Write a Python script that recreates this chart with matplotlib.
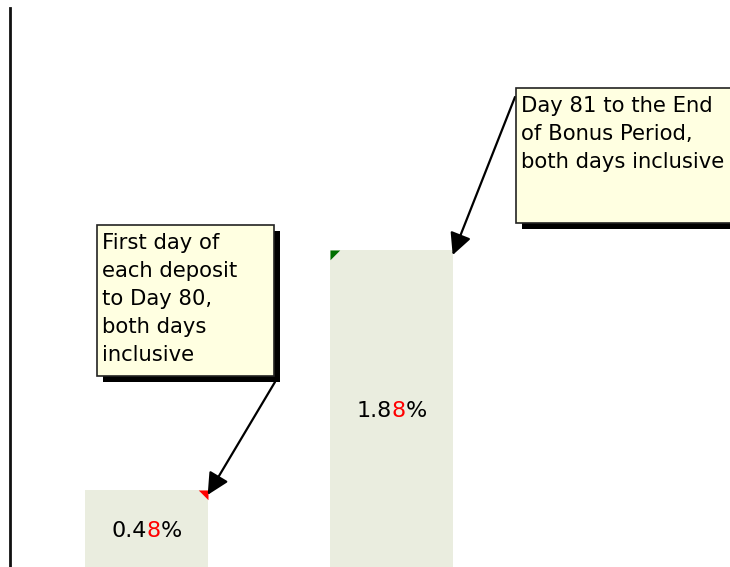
import matplotlib
matplotlib.use("Agg")
import matplotlib.pyplot as plt
from matplotlib.patches import Rectangle
from matplotlib.offsetbox import TextArea, HPacker, AnnotationBbox

# data
categories = ["Day 1-80", "Day 81-End"]
rates = [0.48, 1.88]
label_parts = [("0.4", "8", "%"), ("1.8", "8", "%")]
corner_colors = ["#ff0000", "#007000"]
notes = ["First day of\neach deposit\nto Day 80,\nboth days\ninclusive",
         "Day 81 to the End\nof Bonus Period,\nboth days inclusive"]

W, H = 730, 567
BAR_COLOR = "#eaeddf"
NOTE_COLOR = "#ffffe1"

fig = plt.figure(figsize=(W / 100, H / 100), dpi=100)
ax = fig.add_axes([10 / W, 0, 720 / W, 559 / H])

x = list(range(len(categories)))
bars = ax.bar(x, rates, width=0.5, color=BAR_COLOR, zorder=1)
ax.set_xlim(-0.557, 2.382)
ax.set_ylim(0.029, 3.292)

for s in ["top", "right", "bottom"]:
    ax.spines[s].set_visible(False)
ax.spines["left"].set_linewidth(2)
ax.spines["left"].set_color("#111111")
ax.set_xticks([])
ax.set_yticks([])

# value labels with the red last digit
for xi, v, parts in zip(x, rates, label_parts):
    pieces = [TextArea(parts[0], textprops=dict(fontsize=16, color="black")),
              TextArea(parts[1], textprops=dict(fontsize=16, color="red")),
              TextArea(parts[2], textprops=dict(fontsize=16, color="black"))]
    box = HPacker(children=pieces, align="baseline", pad=0, sep=0)
    ab = AnnotationBbox(box, (xi, v / 2), frameon=False, box_alignment=(0.5, 0.5), pad=0)
    ax.add_artist(ab)

# little corner markers
ax.plot(bars[0].get_x() + bars[0].get_width(), rates[0], linestyle="none",
        marker=[(0, 0), (-1, 0), (0, -1), (0, 0)], markersize=14,
        color=corner_colors[0], markeredgewidth=0, zorder=3)
ax.plot(bars[1].get_x(), rates[1], linestyle="none",
        marker=[(0, 0), (1, 0), (0, -1), (0, 0)], markersize=14,
        color=corner_colors[1], markeredgewidth=0, zorder=3)


def px(xp, yp):
    return xp / W, 1 - yp / H


# callout boxes (image pixels: left, top, right, bottom)
note_boxes = [(97, 225, 274, 376), (516, 88, 740, 223)]
arrow_starts = [(275, 382), (515, 97)]
targets = [(bars[0].get_x() + bars[0].get_width(), rates[0] - 0.03),
           (bars[1].get_x() + bars[1].get_width(), rates[1] - 0.03)]

for (l, t, r, b), txt, start, tgt in zip(note_boxes, notes, arrow_starts, targets):
    shadow = Rectangle(px(l + 6, b + 6), (r - l) / W, (b - t) / H,
                       transform=fig.transFigure, facecolor="black",
                       edgecolor="none", zorder=5)
    note = Rectangle(px(l, b), (r - l) / W, (b - t) / H,
                     transform=fig.transFigure, facecolor=NOTE_COLOR,
                     edgecolor="#222222", lw=1.2, zorder=6)
    fig.add_artist(shadow)
    fig.add_artist(note)
    fig.text(*px(l + 5, t + 8), txt, fontsize=15.2, va="top", ha="left",
             linespacing=1.5, zorder=7)
    ax.annotate("", xy=tgt, xycoords="data", xytext=px(*start),
                textcoords="figure fraction",
                arrowprops=dict(arrowstyle="-|>,head_length=0.6,head_width=0.3",
                                color="black", lw=1.6,
                                mutation_scale=22, shrinkA=0, shrinkB=0),
                zorder=8, annotation_clip=False)

fig.savefig("out.png", dpi=100)
